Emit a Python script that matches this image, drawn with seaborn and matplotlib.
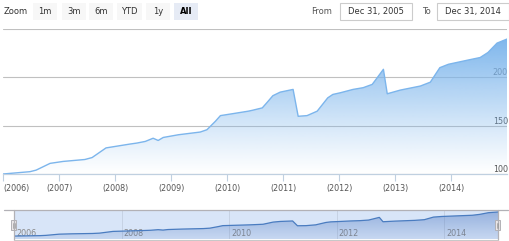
import matplotlib
matplotlib.use("Agg")
import matplotlib.pyplot as plt
import matplotlib.dates as mdates
import matplotlib.ticker as mticker
import matplotlib.transforms as mtrans
from matplotlib.patches import Rectangle
import numpy as np
import pandas as pd
import seaborn as sns

# ---- data ----
dates = [
    "2005-12-31", "2006-06-25", "2006-08-04", "2006-11-03", "2007-01-27",
    "2007-06-18", "2007-08-04", "2007-11-03", "2008-01-01", "2008-04-08",
    "2008-05-22", "2008-07-16", "2008-09-05", "2008-10-08", "2008-11-10",
    "2009-02-17", "2009-07-09", "2009-08-22", "2009-10-16", "2009-11-18",
    "2010-02-10", "2010-05-19", "2010-06-17", "2010-08-18", "2010-09-16",
    "2010-10-26", "2010-12-13", "2011-03-07", "2011-04-09", "2011-06-06",
    "2011-08-11", "2011-10-19", "2011-11-21", "2012-01-08", "2012-04-01",
    "2012-06-06", "2012-08-04", "2012-09-06", "2012-10-16", "2012-11-10",
    "2013-02-03", "2013-06-14", "2013-08-18", "2013-10-19", "2013-12-14",
    "2014-04-16", "2014-07-09", "2014-08-29", "2014-10-27", "2014-12-31",
]
values = [
    100.0, 102.4, 104.0, 111.0, 113.0,
    115.0, 117.0, 127.0, 128.5, 131.0,
    132.0, 133.7, 137.0, 134.7, 137.8,
    140.6, 143.4, 145.8, 154.5, 160.4,
    162.5, 165.0, 166.0, 168.4, 173.6,
    181.0, 184.7, 187.5, 159.7, 160.4,
    165.0, 178.8, 182.3, 184.0, 187.5,
    189.3, 192.7, 199.7, 208.3, 183.0,
    186.8, 191.0, 195.0, 210.0, 213.5,
    217.7, 220.5, 225.7, 235.4, 239.6,
]
y_ticks = [100, 150, 200, 250]
y_tick_labels = ["100", "150", "200", ""]
x_tick_years = [2006, 2007, 2008, 2009, 2010, 2011, 2012, 2013, 2014]
x_tick_labels = ["(2006)", "(2007)", "(2008)", "(2009)", "(2010)",
                 "(2011)", "(2012)", "(2013)", "(2014)"]
nav_tick_years = [2006, 2008, 2010, 2012, 2014]
nav_tick_labels = ["2006", "2008", "2010", "2012", "2014"]
zoom_buttons = ["1m", "3m", "6m", "YTD", "1y", "All"]
range_from = "Dec 31, 2005"
range_to = "Dec 31, 2014"

df = pd.DataFrame({"date": pd.to_datetime(dates), "value": values})
start, end = df["date"].iloc[0], df["date"].iloc[-1]

sns.set_theme(style="white")
plt.rcParams["font.family"] = ["DejaVu Sans"]

W, H = 510, 241
fig = plt.figure(figsize=(W / 100, H / 100), dpi=100)
fig.patch.set_facecolor("white")


def fx(x):
    return x / W


def fy(y):
    return 1 - y / H


LINE = "#7cb5ec"
TXT = "#555555"

# ---------------- main chart ----------------
ax = fig.add_axes([fx(3), fy(174), fx(507) - fx(3), fy(29) - fy(174)])
ax.set_facecolor("white")

xd = mdates.date2num(df["date"])
poly = ax.fill_between(xd, df["value"], 100, color="none", lw=0)
grad = np.zeros((200, 1, 4))
grad[:, 0, :3] = np.array([124, 181, 236]) / 255
grad[:, 0, 3] = np.linspace(1.0, 0.0, 200) ** 1.1
im = ax.imshow(grad, extent=[xd[0], xd[-1], 100, 242], aspect="auto",
               origin="upper", zorder=1)
im.set_clip_path(poly.get_paths()[0], transform=ax.transData)
sns.lineplot(data=df, x="date", y="value", ax=ax, color=LINE, lw=1.0, zorder=3)
ax.set_xlim(start, end)
ax.set_ylim(100, 250)

ax.set_yticks(y_ticks)
ax.set_yticklabels(y_tick_labels)
ax.yaxis.tick_right()
ax.grid(axis="y", color="#c0c0c0", lw=0.8)
ax.grid(axis="x", visible=False)
ax.tick_params(axis="y", length=0, pad=0.6, labelsize=5.8, labelcolor=TXT)
for lab in ax.get_yticklabels():
    lab.set_horizontalalignment("right")
    lab.set_verticalalignment("bottom")

xt = [mdates.date2num(pd.Timestamp(f"{y}-01-01")) for y in x_tick_years]
ax.xaxis.set_major_locator(mticker.FixedLocator(xt))
ax.xaxis.set_major_formatter(mticker.FixedFormatter(x_tick_labels))
ax.tick_params(axis="x", length=5, width=0.8, color="#c0d0e0", pad=2.5,
               labelsize=5.8, labelcolor=TXT, bottom=True)
for t in ax.xaxis.get_major_ticks():
    pass
fig.canvas.draw()
first = ax.xaxis.get_major_ticks()[0]
first.label1.set_horizontalalignment("left")
for s in ["top", "left", "right"]:
    ax.spines[s].set_visible(False)
ax.spines["bottom"].set_color("#c0d0e0")
ax.spines["bottom"].set_linewidth(0.9)
ax.set_xlabel("")
ax.set_ylabel("")
ax.set_axisbelow(True)

# ---------------- navigator ----------------
nav = fig.add_axes([fx(14), fy(239), fx(498) - fx(14), fy(210) - fy(239)])
nav.set_facecolor("#d8e5f8")
poly2 = nav.fill_between(xd, df["value"], 83, color="none", lw=0)
grad2 = np.zeros((100, 1, 4))
grad2[:, 0, :3] = np.array([69, 114, 190]) / 255
grad2[:, 0, 3] = np.linspace(0.45, 0.12, 100)
im2 = nav.imshow(grad2, extent=[xd[0], xd[-1], 83, 242], aspect="auto",
                 origin="upper", zorder=1)
im2.set_clip_path(poly2.get_paths()[0], transform=nav.transData)
sns.lineplot(data=df, x="date", y="value", ax=nav, color="#4a7cc0", lw=0.9,
             zorder=3)
nav.set_xlim(start, end)
nav.set_ylim(83, 251)
nt = [mdates.date2num(pd.Timestamp(f"{y}-01-01")) for y in nav_tick_years]
nav.xaxis.set_major_locator(mticker.FixedLocator(nt))
nav.xaxis.set_major_formatter(mticker.FixedFormatter(nav_tick_labels))
nav.grid(axis="x", color="#c6d2e4", lw=0.7)
nav.grid(axis="y", visible=False)
nav.set_yticks([])
nav.tick_params(axis="x", length=0, pad=-7.5, labelsize=5.8,
                labelcolor="#888888")
offset = mtrans.ScaledTranslation(2 / 100, 0, fig.dpi_scale_trans)
for t in nav.xaxis.get_major_ticks():
    t.label1.set_horizontalalignment("left")
    t.label1.set_transform(t.label1.get_transform() + offset)
for s in nav.spines.values():
    s.set_visible(False)
nav.set_xlabel("")
nav.set_ylabel("")

# navigator outline
ol = fig.add_axes([0, 0, 1, 1], facecolor="none")
ol.set_xlim(0, W)
ol.set_ylim(H, 0)
ol.axis("off")
ol.plot([4, 508], [210, 210], color="#b2b1b6", lw=0.9)
ol.plot([14, 14], [210, 239.5], color="#b2b1b6", lw=0.9)
ol.plot([498, 498], [210, 239.5], color="#b2b1b6", lw=0.9)
ol.plot([14, 498], [239.5, 239.5], color="#c8c8c8", lw=0.8)
for hx in (14, 497.5):
    ol.add_patch(Rectangle((hx - 2.5, 220), 5, 10, facecolor="#ebe7e8",
                           edgecolor="#b2b1b6", lw=0.7))
    ol.plot([hx - 0.6, hx - 0.6], [222.5, 227.5], color="#999999", lw=0.5)
    ol.plot([hx + 0.8, hx + 0.8], [222.5, 227.5], color="#999999", lw=0.5)

# ---------------- range selector ----------------
ol.text(4, 11.5, "Zoom", fontsize=6, color="#333333", va="center", ha="left")
btn_x = [(33, 57), (62, 86), (89, 113), (117, 142), (146, 170), (174, 198)]
for (x0, x1), lab in zip(btn_x, zoom_buttons):
    sel = lab == "All"
    ol.add_patch(Rectangle((x0, 3), x1 - x0, 16.5,
                           facecolor="#e6ebf5" if sel else "#f7f7f7",
                           edgecolor="none"))
    ol.text((x0 + x1) / 2, 11.5, lab, fontsize=6,
            color="#000000" if sel else "#333333",
            fontweight="bold" if sel else "normal", ha="center", va="center")
ol.text(332, 11.5, "From", fontsize=6, color="#555555", ha="right", va="center")
ol.add_patch(Rectangle((340, 3), 72, 16.5, facecolor="white",
                       edgecolor="#cccccc", lw=0.8))
ol.text(376, 11.5, range_from, fontsize=6, color="#333333", ha="center", va="center")
ol.text(426, 11.5, "To", fontsize=6, color="#555555", ha="center", va="center")
ol.add_patch(Rectangle((437, 3), 72, 16.5, facecolor="white",
                       edgecolor="#cccccc", lw=0.8))
ol.text(473, 11.5, range_to, fontsize=6, color="#333333", ha="center", va="center")

fig.savefig("out.png", dpi=100, facecolor="white")
